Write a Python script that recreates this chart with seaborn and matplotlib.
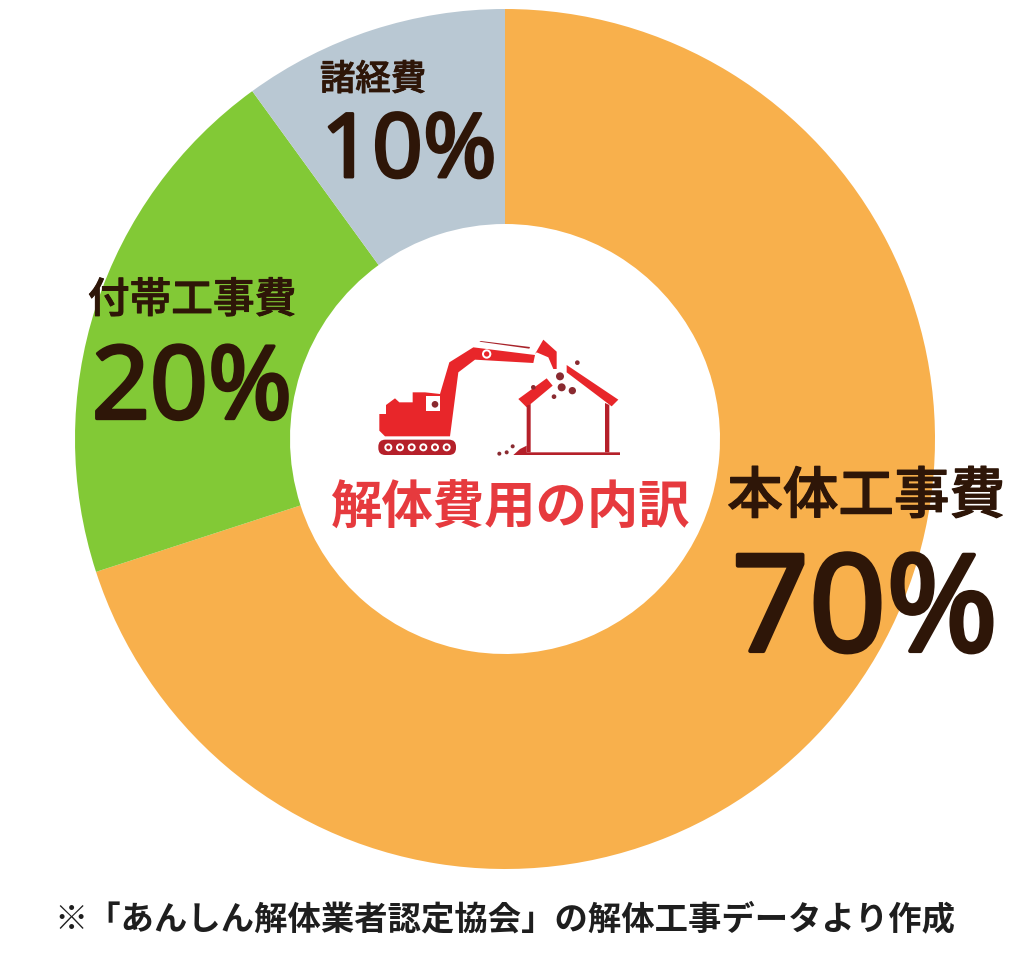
import matplotlib
matplotlib.use('Agg')
import matplotlib.pyplot as plt
import matplotlib.patheffects as pe
import seaborn as sns
from matplotlib.patches import Polygon, Circle, Rectangle, FancyBboxPatch

sns.set_theme(style='white')
plt.rcParams['font.family'] = ['Noto Sans CJK JP', 'DejaVu Sans']

categories = ['本体工事費', '付帯工事費', '諸経費']
shares = [70, 20, 10]
colors = ['#F8B04C', '#82C936', '#B9C8D3']
share_labels = ['70%', '20%', '10%']
center_title = '解体費用の内訳'
footnote = '※「あんしん解体業者認定協会」の解体工事データより作成'

W, H = 1024, 979
BROWN = '#2E1608'
RED = '#E8262A'

fig = plt.figure(figsize=(W / 100, H / 100), dpi=100, facecolor='white')

cx, cy, r = 505, 440, 430
# pie needs its own axes so the wedges come from the shares
pie_ax = fig.add_axes([(cx - r) / W, 1 - (cy + r) / H, 2 * r / W, 2 * r / H])
pie_ax.pie(shares, colors=colors, startangle=90, counterclock=False, radius=1,
           wedgeprops={'width': 0.5, 'linewidth': 0})
pie_ax.set_xlim(-1, 1)
pie_ax.set_ylim(-1, 1)

# overlay in picture pixels for the text and the icon
text_ax = fig.add_axes([0, 0, 1, 1])
text_ax.set_xlim(0, W)
text_ax.set_ylim(H, 0)
text_ax.axis('off')


def label(x, y, s, size, color=BROWN, weight='medium', family=None, stroke=0):
    t = text_ax.text(x, y, s, fontsize=size, color=color, weight=weight, ha='center', va='center',
                     family=family or plt.rcParams['font.family'])
    # the installed fonts have no semibold, so thicken with a thin outline
    if stroke:
        t.set_path_effects([pe.withStroke(linewidth=stroke, foreground=color)])


label(866, 498, categories[0], 40, stroke=0.9)
label(865, 617, share_labels[0], 97, family='Noto Sans', stroke=3)
label(192, 301, categories[1], 30, stroke=0.7)
label(192, 393, share_labels[1], 73, family='Noto Sans', stroke=2.4)
label(373, 81, categories[2], 25.5, stroke=0.6)
label(409, 155, share_labels[2], 64, family='Noto Sans', stroke=2.1)
label(510, 508, center_title, 37, color='#E63A3E', weight='bold')
label(505, 920, footnote, 24, color='#1E1E1E', weight='bold')


def px(x, y):
    return 360 + x / 3, 320 + y / 3


def shape(pts, color=RED):
    text_ax.add_patch(Polygon([px(*p) for p in pts], closed=True, fc=color, ec='none'))


def dot(x, y, rad, color=RED):
    text_ax.add_patch(Circle(px(x, y), rad / 3, fc=color, ec='none'))


# excavator
shape([(75, 352), (58, 335), (58, 285), (78, 285), (78, 258), (105, 238), (118, 250), (158, 250),
       (158, 220), (195, 220), (240, 225), (268, 130), (340, 85), (525, 108), (520, 132),
       (345, 122), (295, 160), (270, 352)])
shape([(525, 105), (550, 62), (590, 98), (590, 150), (580, 150), (565, 115), (530, 100)])
shape([(358, 68), (362, 66), (510, 84), (508, 89)], '#A8232A')
text_ax.add_patch(Rectangle(px(197, 232), 43 / 3, 43 / 3, fc='white', ec='none'))
dot(225, 256, 10, '#8A2A30')
dot(380, 105, 14, 'white')
dot(380, 105, 8, RED)
text_ax.add_patch(FancyBboxPatch(px(55, 362), 233 / 3, 46 / 3,
                                 boxstyle='round,pad=0,rounding_size=7', fc='#B5202A', ec='none'))
for wx in (85, 120, 155, 190, 225, 260):
    dot(wx, 385, 12, 'white')
    dot(wx, 385, 6, '#B5202A')

# house
shape([(475, 240), (560, 178), (578, 200), (500, 265)])
shape([(620, 138), (775, 242), (755, 262), (620, 160)])
shape([(500, 260), (512, 255), (512, 400), (500, 400)], '#B5202A')
shape([(735, 252), (748, 258), (748, 400), (735, 400)], '#B5202A')
shape([(460, 408), (480, 390), (500, 380), (500, 400), (780, 400), (780, 408)], '#B5202A')

# rubble
for x, y, rad in [(600, 172, 12), (605, 205, 12), (637, 215, 11), (582, 233, 7), (652, 131, 7),
                  (520, 205, 7), (458, 382, 6), (440, 400, 6), (418, 404, 6)]:
    dot(x, y, rad, '#8A2A30')

fig.savefig('out.png', dpi=100)
